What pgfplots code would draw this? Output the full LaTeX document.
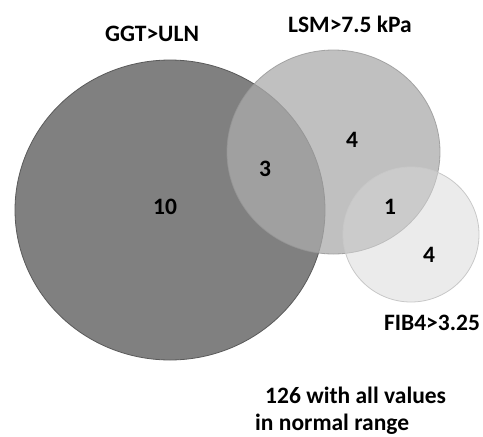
\documentclass[border=0pt]{standalone}
\usepackage{fontspec}
\setmainfont{Carlito}
\usepackage{pgfplots}
\pgfplotsset{compat=1.18}
\definecolor{cA}{RGB}{128,128,128}
\definecolor{cAe}{RGB}{90,90,90}
\definecolor{cB}{RGB}{171,171,171}
\definecolor{cBe}{RGB}{150,150,150}
\definecolor{cC}{RGB}{216,216,216}
\definecolor{cCe}{RGB}{200,200,200}
\tikzset{lab/.style={font=\fontsize{23.5}{27}\selectfont\bfseries, text=black, inner sep=0pt}}
\begin{document}
\begin{tikzpicture}
\begin{axis}[
  width=483pt, height=437pt, scale only axis,
  xmin=0, xmax=483, ymin=0, ymax=437, y dir=reverse,
  hide axis, clip=false
]
% GGT>ULN circle
\addplot[fill=cA, draw=cAe, line width=0.8pt, domain=0:360, samples=241]
  ({170+155*cos(x)},{210+150*sin(x)});
% LSM>7.5 kPa circle
\addplot[fill=cB, fill opacity=0.75, draw=cBe, draw opacity=0.8, line width=0.8pt, domain=0:360, samples=241]
  ({333.5+106.5*cos(x)},{152+102*sin(x)});
% FIB4>3.25 circle
\addplot[fill=cC, fill opacity=0.5, draw=cCe, line width=0.8pt, domain=0:360, samples=241]
  ({411+68*cos(x)},{234.5+67.5*sin(x)});

\node[lab] at (axis cs:152,34) {GGT>ULN};
\node[lab] at (axis cs:350,24) {LSM>7.5 kPa};
\node[lab] at (axis cs:432,323) {FIB4>3.25};
\node[lab, anchor=west] at (axis cs:265,395) {126 with all values};
\node[lab, anchor=west] at (axis cs:255,424) {in normal range};
\node[lab] at (axis cs:165,207) {10};
\node[lab] at (axis cs:265,169) {3};
\node[lab] at (axis cs:352,140) {4};
\node[lab] at (axis cs:390,207) {1};
\node[lab] at (axis cs:429,255) {4};
\end{axis}
\pgfresetboundingbox
\path (current axis.south west) rectangle (current axis.north east);
\end{tikzpicture}
\end{document}
